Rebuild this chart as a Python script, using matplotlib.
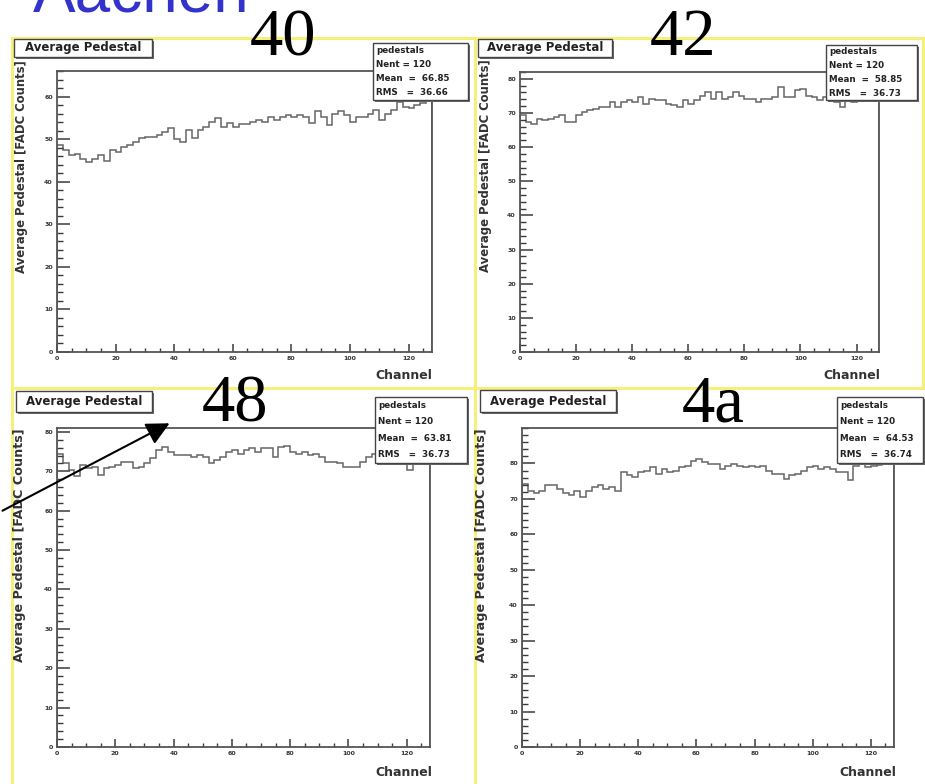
import numpy as np
import matplotlib
matplotlib.use("Agg")
import matplotlib.pyplot as plt
from matplotlib.patches import Rectangle, FancyArrowPatch
from matplotlib.lines import Line2D
from matplotlib.ticker import MultipleLocator

W, H = 925, 784

# ---------------- data ----------------
channels = ["40", "42", "48", "4a"]
bin_edges = list(range(0, 130, 2))

ped_40 = [48.6, 47.4, 46.2, 46.4, 45.4, 44.6, 45.4, 46.2, 44.8, 47.4,
          47.0, 48.2, 48.6, 49.4, 50.2, 50.6, 50.6, 51.0, 51.7, 52.5,
          50.0, 49.4, 52.1, 50.2, 52.1, 52.9, 54.1, 54.9, 52.9, 53.7,
          52.9, 53.5, 53.5, 54.1, 54.5, 54.1, 55.3, 54.5, 55.3, 55.7,
          55.3, 55.7, 55.3, 53.7, 56.5, 55.3, 53.3, 56.0, 56.5, 55.7,
          54.1, 55.3, 55.3, 56.0, 56.9, 54.5, 56.0, 56.9, 58.8, 57.6,
          57.2, 58.0, 58.4, 59.6]
ped_42 = [69.3, 67.3, 66.9, 68.3, 67.8, 68.3, 68.8, 69.3, 67.5, 67.3,
          69.3, 70.3, 70.8, 71.2, 71.7, 71.7, 73.2, 71.7, 73.2, 73.7,
          73.2, 74.6, 72.7, 74.2, 73.7, 73.7, 72.7, 72.2, 71.7, 73.7,
          72.7, 73.7, 75.1, 76.1, 74.2, 76.1, 74.2, 74.6, 76.1, 75.1,
          74.2, 74.2, 73.2, 74.2, 74.2, 74.6, 77.6, 74.6, 74.6, 76.6,
          77.1, 75.1, 74.6, 73.7, 74.6, 74.2, 73.2, 71.7, 73.7, 73.2,
          73.8, 74.2, 74.5, 74.8]
ped_48 = [74.5, 72.0, 70.4, 68.7, 71.6, 70.8, 71.2, 69.1, 70.8, 71.2,
          71.6, 72.4, 72.4, 70.8, 71.2, 72.0, 73.3, 75.4, 76.2, 75.0,
          74.1, 74.1, 74.1, 73.7, 74.1, 73.7, 72.0, 72.9, 73.7, 75.0,
          75.4, 74.5, 75.4, 75.8, 75.0, 75.8, 75.8, 73.7, 76.2, 76.4,
          75.0, 74.5, 75.0, 74.1, 74.5, 73.7, 72.4, 72.4, 72.0, 71.2,
          71.2, 71.2, 72.4, 73.7, 74.5, 73.7, 73.5, 73.8, 74.0, 73.2,
          70.4, 72.8, 73.2, 73.5]
ped_4a = [74.2, 72.3, 71.8, 72.3, 73.8, 73.8, 72.8, 71.8, 71.0, 72.3,
          70.5, 72.3, 73.3, 73.8, 72.8, 73.3, 72.3, 77.5, 76.6, 76.1,
          77.5, 78.0, 78.9, 77.0, 78.4, 77.5, 78.0, 78.9, 79.4, 80.8,
          81.2, 80.3, 79.8, 79.8, 78.4, 79.4, 79.8, 79.4, 78.9, 79.4,
          78.9, 79.4, 78.0, 77.0, 77.0, 75.6, 76.6, 77.0, 78.0, 78.9,
          79.4, 78.4, 78.9, 78.4, 77.5, 77.5, 75.2, 79.4, 79.8, 78.9,
          79.4, 79.6, 80.0, 80.2]
series = [ped_40, ped_42, ped_48, ped_4a]

stat_nent = ["Nent = 120", "Nent = 120", "Nent = 120", "Nent = 120"]
stat_mean = ["Mean  =  66.85", "Mean  =  58.85", "Mean  =  63.81", "Mean  =  64.53"]
stat_rms = ["RMS   =  36.66", "RMS   =  36.73", "RMS   =  36.73", "RMS   =  36.74"]
y_max = [66, 82, 81, 90]
y_tick_max = [60, 80, 80, 80]

# ---------------- layout (pixels) ----------------
axes_px = [(57, 432, 71, 352), (520, 879, 72, 352),
           (57, 430, 428, 747), (522, 894, 428, 747)]
title_px = [(14, 152, 39, 57), (478, 612, 39, 57),
            (16, 152, 391, 412), (480, 616, 390, 412)]
stats_px = [(373, 468, 43, 100), (826, 917, 45, 100),
            (375, 467, 397, 463), (837, 923, 397, 463)]
ylab_px = [(22, 167, 8.4), (485, 166, 8.4), (20, 545, 9.2), (482, 545, 9.2)]
xlab_px = [(432, 375), (880, 375), (432, 772), (896, 772)]
big_px = [(283, 55), (683, 55), (235, 422), (713, 422)]


def fx(x):
    return x / W


def fy(y):
    return 1 - y / H


fig = plt.figure(figsize=(W / 100, H / 100), dpi=100)
fig.patch.set_facecolor("white")

# yellow pad frames
yel = "#f6f07a"
for (x0, y0, x1, y1) in [(12, 38, 923, 38), (12, 388, 923, 388),
                         (12, 38, 12, 784), (475, 38, 475, 784),
                         (923, 38, 923, 388)]:
    fig.add_artist(Line2D([fx(x0), fx(x1)], [fy(y0), fy(y1)], color=yel, lw=2.2))

ink = "#3a3a3a"
for i in range(4):
    l, r, t, b = axes_px[i]
    ax = fig.add_axes([fx(l), fy(b), (r - l) / W, (b - t) / H])
    ax.stairs(series[i], bin_edges, color="#666666", lw=1.1)
    ax.set_xlim(0, 128)
    ax.set_ylim(0, y_max[i])
    ax.set_xticks(range(0, 121, 20))
    ax.set_yticks(range(0, y_tick_max[i] + 1, 10))
    ax.xaxis.set_minor_locator(MultipleLocator(5))
    ax.yaxis.set_minor_locator(MultipleLocator(2))
    ax.tick_params(axis="x", which="major", direction="in", length=6, width=1.1,
                   color=ink, labelsize=4.5, pad=3)
    ax.tick_params(axis="x", which="minor", direction="in", length=3, width=1.0, color=ink)
    ax.tick_params(axis="y", which="major", direction="in", length=9, width=1.1,
                   color=ink, labelsize=4.5, pad=3)
    ax.tick_params(axis="y", which="minor", direction="in", length=4.5, width=1.0, color=ink)
    for lab in ax.get_xticklabels() + ax.get_yticklabels():
        lab.set_fontweight("bold")
        lab.set_color("#333333")
    for sp in ax.spines.values():
        sp.set_color("#555555")
        sp.set_linewidth(1.3)

    # title box
    x0, x1, y0, y1 = title_px[i]
    fig.add_artist(Rectangle((fx(x0 + 2), fy(y1 + 2)), (x1 - x0) / W, (y1 - y0) / H,
                             transform=fig.transFigure, facecolor="#6a6a6a",
                             edgecolor="none", zorder=4))
    fig.add_artist(Rectangle((fx(x0), fy(y1)), (x1 - x0) / W, (y1 - y0) / H,
                             transform=fig.transFigure, facecolor="white",
                             edgecolor="#444444", lw=1.0, zorder=5))
    fig.text(fx((x0 + x1) / 2), fy((y0 + y1) / 2), "Average Pedestal",
             ha="center", va="center", fontsize=8.5, fontweight="bold",
             family="Liberation Sans Narrow", color="#222222", zorder=6)

    # stats box
    x0, x1, y0, y1 = stats_px[i]
    fig.add_artist(Rectangle((fx(x0 + 2), fy(y1 + 2)), (x1 - x0) / W, (y1 - y0) / H,
                             transform=fig.transFigure, facecolor="#6a6a6a",
                             edgecolor="none", zorder=4))
    fig.add_artist(Rectangle((fx(x0), fy(y1)), (x1 - x0) / W, (y1 - y0) / H,
                             transform=fig.transFigure, facecolor="white",
                             edgecolor="#444444", lw=1.0, zorder=5))
    lines = ["pedestals", stat_nent[i], stat_mean[i], stat_rms[i]]
    hgt = (y1 - y0) / 4.0
    for k, txt in enumerate(lines):
        fig.text(fx(x0 + 3), fy(y0 + hgt * (k + 0.5)), txt, ha="left", va="center",
                 fontsize=6.3, fontweight="bold", family="Liberation Sans Narrow",
                 color="#222222", zorder=6)

    # y label
    xx, yy, fs = ylab_px[i]
    fig.text(fx(xx), fy(yy), "Average Pedestal [FADC Counts]", rotation=90,
             ha="center", va="center", fontsize=fs, fontweight="bold",
             family="Liberation Sans Narrow", color="#333333", zorder=3)
    # x label
    xx, yy = xlab_px[i]
    fig.text(fx(xx), fy(yy), "Channel", ha="right", va="center", fontsize=9,
             fontweight="bold", family="Liberation Sans Narrow", color="#333333")

    # big channel label
    xx, yy = big_px[i]
    fig.text(fx(xx), fy(yy), channels[i], ha="center", va="baseline",
             fontsize=48, family="Liberation Serif", color="black", zorder=7)

# Aachen title (cut off at the top, as in the reference)
fig.text(fx(33), fy(11), "Aachen", ha="left", va="baseline", fontsize=46,
         family="Liberation Sans", color="#3333cc", zorder=7)

# arrow pointing to panel 48
arr = FancyArrowPatch((fx(0), fy(512)), (fx(172), fy(422)), transform=fig.transFigure,
                      arrowstyle="-|>,head_length=14,head_width=7", mutation_scale=1,
                      color="black", lw=1.5, zorder=8)
fig.add_artist(arr)

fig.savefig("out.png", dpi=100, facecolor="white")
